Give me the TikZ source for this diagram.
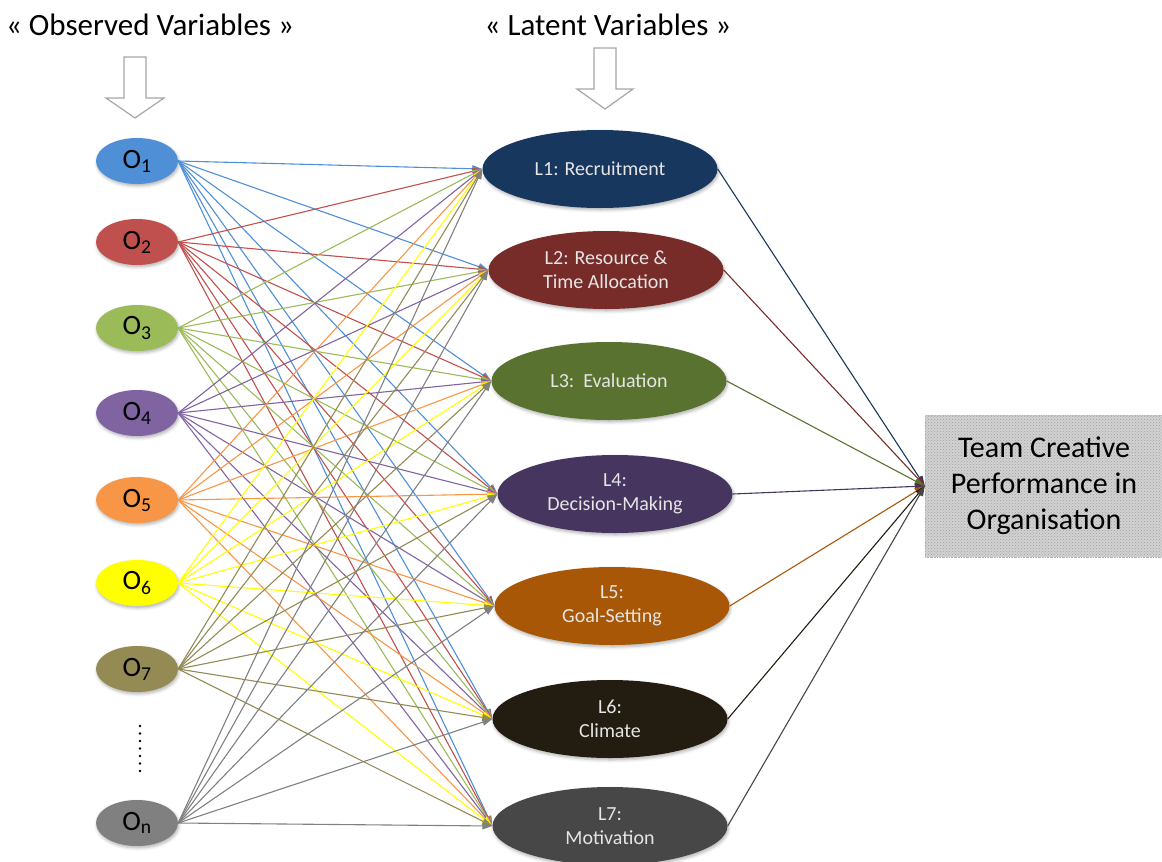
\documentclass[tikz,border=0pt]{standalone}
\usepackage{fontspec}
\setmainfont{Carlito}
\usetikzlibrary{arrows.meta, shapes.geometric, shadows.blur, patterns}

% 颜色
\definecolor{cOa}{HTML}{4F8FD6}
\definecolor{cOb}{HTML}{C0504D}
\definecolor{cOc}{HTML}{9BBB59}
\definecolor{cOd}{HTML}{8064A2}
\definecolor{cOe}{HTML}{F79646}
\definecolor{cOf}{HTML}{FFFF00}
\definecolor{cOg}{HTML}{948A54}
\definecolor{cOn}{HTML}{808080}
\definecolor{cLa}{HTML}{17375E}
\definecolor{cLb}{HTML}{772C2A}
\definecolor{cLc}{HTML}{5A7230}
\definecolor{cLd}{HTML}{45355F}
\definecolor{cLe}{HTML}{A85706}
\definecolor{cLf}{HTML}{231C10}
\definecolor{cLg}{HTML}{474747}

\tikzset{
  obs/.style={ellipse, minimum width=82pt, minimum height=46pt, inner sep=0pt,
    font=\fontsize{28}{28}\selectfont,
    blur shadow={shadow xshift=1pt, shadow yshift=-2pt, shadow blur radius=3pt, shadow opacity=30}},
  lat/.style={ellipse, minimum width=235pt, minimum height=78pt, inner sep=0pt,
    align=center, text=white!90!black, font=\fontsize{20}{24}\selectfont,
    blur shadow={shadow xshift=1pt, shadow yshift=-2pt, shadow blur radius=3pt, shadow opacity=30}},
  link/.style={-{Triangle[length=10pt,width=7pt]}, line width=1.1pt},
  hollow/.style={draw=gray!70, fill=white, line width=1.2pt, line join=miter},
}

\begin{document}
\begin{tikzpicture}[x=1pt, y=-1pt]
  \useasboundingbox (0,0) rectangle (1162,862);

  % 标题
  \node (tobs) at (150,25) {\fontsize{31}{31}\selectfont « Observed Variables »};
  \node (tlat) at (608,25) {\fontsize{31}{31}\selectfont « Latent Variables »};

  % 空心箭头
  \draw[hollow] (124,57) -- (146,57) -- (146,98) -- (164,98) -- (135,118)
    -- (106,98) -- (124,98) -- cycle;
  \draw[hollow] (594,48) -- (616,48) -- (616,89) -- (633,89) -- (605,109)
    -- (577,89) -- (594,89) -- cycle;

  % 观测变量
  \node[obs, fill=cOa] (o1) at (137,161) {O\textsubscript{1}};
  \node[obs, fill=cOb] (o2) at (137,242) {O\textsubscript{2}};
  \node[obs, fill=cOc] (o3) at (137,328) {O\textsubscript{3}};
  \node[obs, fill=cOd] (o4) at (137,413) {O\textsubscript{4}};
  \node[obs, fill=cOe] (o5) at (137,500) {O\textsubscript{5}};
  \node[obs, fill=cOf] (o6) at (137,583) {O\textsubscript{6}};
  \node[obs, fill=cOg] (o7) at (137,669) {O\textsubscript{7}};
  \node[obs, fill=cOn] (on) at (137,823) {O\textsubscript{n}};

  % 省略号
  \foreach \y in {726,733.5,...,772}
    \fill (140,\y) circle (1.4);

  % 潜变量
  \node[lat, fill=cLa] (l1) at (600,169) {L1: Recruitment};
  \node[lat, fill=cLb] (l2) at (606,270) {L2: Resource \&\\Time Allocation};
  \node[lat, fill=cLc] (l3) at (609,381) {L3:\ \ Evaluation};
  \node[lat, fill=cLd] (l4) at (615,494) {L4:\\Decision-Making};
  \node[lat, fill=cLe] (l5) at (612,606) {L5:\\Goal-Setting};
  \node[lat, fill=cLf] (l6) at (610,719) {L6:\\Climate};
  \node[lat, fill=cLg] (l7) at (610,826) {L7:\\Motivation};

  % 结果
  \node[draw=gray!60, dotted, minimum width=238pt, minimum height=142pt,
    preaction={fill=gray!35}, pattern=crosshatch dots, pattern color=gray!75,
    align=center, font=\fontsize{30}{36}\selectfont] (team) at (1044,486)
    {Team Creative\\Performance in\\Organisation};

  % 观测 -> 潜变量
  \foreach \o/\c in {o1/cOa, o2/cOb, o3/cOc, o4/cOd, o5/cOe, o6/cOf, o7/cOg, on/cOn}
    \foreach \l in {1,...,7}
      \draw[link, \c] (\o.east) -- (l\l.west);

  % 潜变量 -> 结果
  \foreach \l/\c in {1/cLa, 2/cLb, 3/cLc, 4/cLd, 5/cLe, 6/cLf, 7/cLg}
    \draw[link, \c] (l\l.east) -- (team.west);

\end{tikzpicture}
\end{document}
